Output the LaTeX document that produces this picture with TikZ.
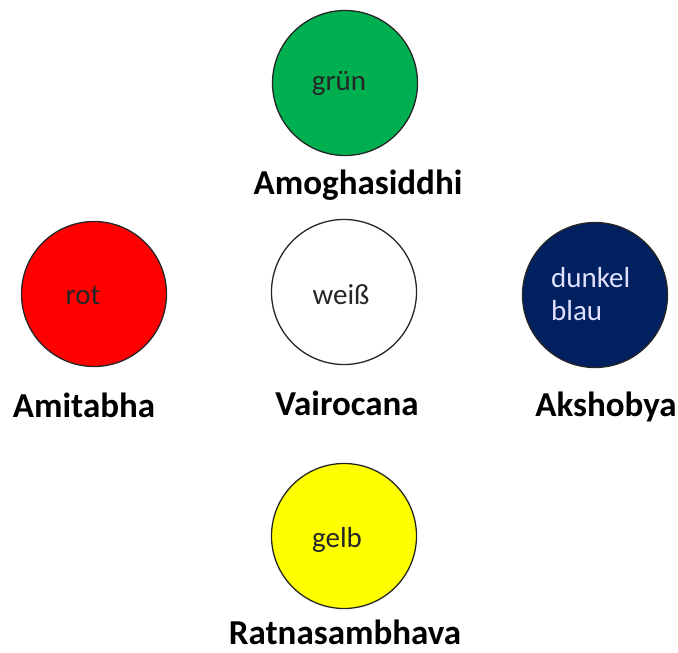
\documentclass[tikz,border=0pt]{standalone}
\usepackage{fontspec}
\setmainfont{Carlito}
\definecolor{cgreen}{HTML}{00B050}
\definecolor{cred}{HTML}{FF0000}
\definecolor{cblue}{HTML}{002060}
\definecolor{cyellow}{HTML}{FFFF00}
\definecolor{ctext}{HTML}{262626}
\begin{document}
\begin{tikzpicture}[x=1pt,y=-1pt,
  disc/.style={circle,draw=black!85,line width=1.3pt,minimum size=145pt,inner sep=0pt},
  inner/.style={font=\fontsize{29}{35}\selectfont,text=ctext,inner sep=0pt},
  lbl/.style={font=\fontsize{35}{40}\selectfont\bfseries,text=black,inner sep=0pt}]
\useasboundingbox (0,0) rectangle (678,653);
\node[disc,fill=cgreen] (g) at (345,83) {};
\node[disc,fill=cred] (r) at (94,294) {};
\node[disc,fill=white] (w) at (344,292) {};
\node[disc,fill=cblue] (b) at (595,295) {};
\node[disc,fill=cyellow] (y) at (344,536) {};
\node[inner] (tg) at (339,83) {grün};
\node[inner] (tr) at (83,295) {rot};
\node[inner] (tw) at (341,295) {weiß};
\node[inner,text=white!88!blue,align=left,anchor=west,font=\fontsize{29}{33}\selectfont] (tb) at (551,294) {dunkel\\blau};
\node[inner] (ty) at (337,540) {gelb};
\node[lbl] (lg) at (358,185) {Amoghasiddhi};
\node[lbl] (lr) at (84,405) {Amitabha};
\node[lbl] (lw) at (347,403) {Vairocana};
\node[lbl] (lb) at (606,407) {Akshobya};
\node[lbl] (ly) at (345,632) {Ratnasambhava};
\end{tikzpicture}
\end{document}
